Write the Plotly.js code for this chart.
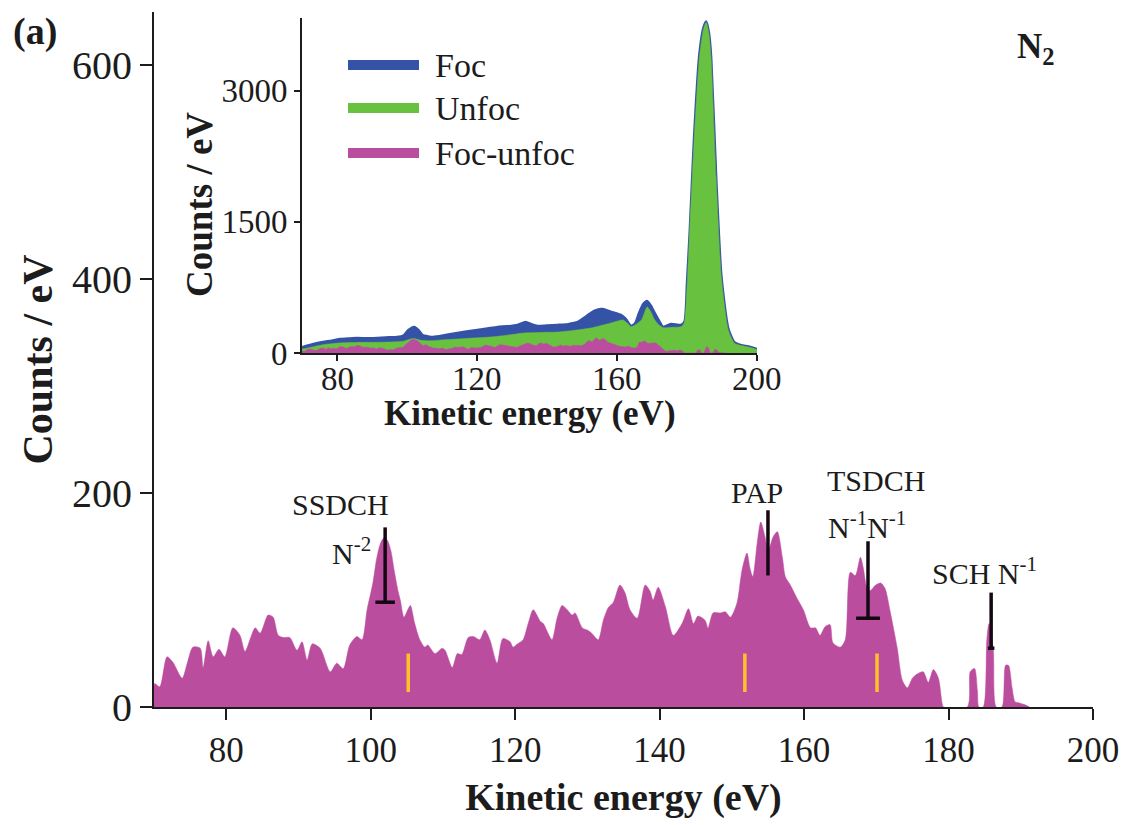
<!DOCTYPE html>
<html>
<head>
<meta charset="utf-8">
<script src="https://cdn.plot.ly/plotly-3.0.1.min.js"></script>
<style>html,body{margin:0;padding:0;background:#fff;}#chart{width:1132px;height:825px;}</style>
</head>
<body>
<div id="chart"></div>
<script>
// ---------- Main panel: Foc-unfoc difference spectrum ----------
const diffEnergy = [70.0,70.1,70.8,71.8,72.6,73.9,74.6,75.4,76.4,76.8,77.5,78.2,79.0,79.8,80.9,81.9,82.6,84.0,84.7,85.8,86.5,87.2,87.9,88.8,89.8,90.5,91.2,91.9,93.0,94.4,95.3,96.2,97.1,98.1,98.8,99.5,100.3,100.8,101.3,101.8,102.3,102.8,103.3,103.8,104.1,104.6,105.2,105.5,106.1,106.8,107.5,107.9,108.9,109.9,110.3,111.3,112.0,112.6,113.5,114.2,115.1,115.8,116.5,117.5,118.3,119.3,119.7,120.3,121.1,121.8,122.5,123.5,123.9,125.1,125.8,126.5,127.2,127.9,128.3,129.3,130.0,130.6,131.5,132.2,132.9,133.6,134.5,135.2,135.9,136.9,138.0,138.7,139.1,139.8,140.8,141.9,143.1,144.0,144.7,145.3,146.3,146.7,147.4,148.4,149.1,149.8,150.7,151.4,152.1,152.5,152.9,153.5,154.0,154.6,155.0,155.7,156.3,157.0,157.4,158.1,159.0,159.9,160.9,161.6,162.2,162.9,163.6,164.0,165.0,165.7,166.4,167.1,167.8,168.2,168.7,169.2,169.9,170.6,171.2,171.9,172.9,173.6,174.3,175.0,175.7,176.5,177.2,177.9,178.6,179.1,179.3,182.6,183.0,183.6,184.0,184.2,184.8,185.3,185.6,186.2,186.6,187.4,187.9,188.3,188.8,189.2,189.7,190.6,191.2];
const diffCounts = [18,22,19,47,42,27,41,56,55,37,62,47,54,47,74,67,52,74,69,86,84,67,65,65,53,61,44,59,55,33,41,36,58,66,63,91,116,138,152,158,156,146,126,108,100,84,92,95,78,63,56,58,50,55,53,37,50,49,65,66,63,72,63,41,64,61,56,59,63,78,91,80,78,63,83,95,91,86,88,74,72,69,63,81,93,98,114,107,91,83,114,108,100,112,94,67,78,92,78,85,81,74,88,88,89,84,97,128,144,130,122,153,173,159,145,159,164,140,122,114,102,91,74,74,67,75,77,60,56,63,126,123,140,130,112,109,114,116,111,90,55,25,18,27,31,33,23,35,27,4,0,0,33,36,15,0,0,63,78,53,0,0,39,39,18,5,4,2,0];

// ---------- Inset: focused and unfocused spectra ----------
const focEnergy = [70,73,76,78.5,80.9,83,85.8,88.5,91.5,94,97.2,99,100.4,102.1,103.3,104.4,106,107.5,111,114.4,117,120.1,123,125.9,128.5,131.6,133.9,135.5,137.3,140,143.1,146,148.8,150.5,152.5,154,155.9,158.3,161.1,162.5,164,165.2,166.3,167.5,168.6,169.7,170.6,172,173.2,175.4,178.3,179.3,180,180.8,182,183.5,184.7,185.5,186.3,186.9,188.3,189.8,191.8,193.5,195.5,197.5,200];
const focCounts = [65,100,126,140,160,165,172,168,172,178,183,200,263,298,260,206,190,183,205,229,245,263,280,298,305,321,355,330,309,315,321,330,355,400,458,490,504,470,435,390,309,340,458,560,595,540,470,370,298,332,321,360,800,1400,2450,3400,3720,3790,3650,3380,2040,890,280,125,90,75,45];
const unfocEnergy = [70,73,76,80.9,85,90,95.2,99,101,102,104,106.5,110,114.4,119,124,128,133.4,138,143,148,152.5,155,158.3,160.5,161.7,163,164,165.5,167,168.6,169.7,170.6,172,173.2,176,178.3,179.2,180,180.6,182,183.5,184.7,185.5,186.3,186.9,188.3,189.8,191.8,193.5,195.5,197.5,200];
const unfocCounts = [45,70,95,115,120,122,126,135,160,165,145,140,150,160,172,183,200,229,235,240,260,286,310,344,370,378,340,300,330,378,527,470,390,320,290,295,300,344,750,1260,2405,3356,3700,3780,3640,3356,2016,870,263,115,85,69,40];

const seriesNames = ['Foc','Unfoc','Foc-unfoc'];
const seriesColors = ['#3553a6','#69c23f','#bb4d9e'];

// ---------- Markers on main panel ----------
const markEnergy = [102.0,155.0,168.85,185.9];
const markTop = [168,184,155,107];
const markBottom = [98,123,83,55];
const markCapHalf = [1.35,0,1.65,0.45];
const yellowEnergy = [105.2,151.8,170.1];
const yellowLow = 14, yellowHigh = 50;

const peakLabels = ['SSDCH','N<sup>-2</sup>','PAP','TSDCH','N<sup>-1</sup>N<sup>-1</sup>','SCH N<sup>-1</sup>'];

const xTicks = [80,100,120,140,160,180,200];
const yTicks = [0,200,400,600];
const insetXTicks = [80,120,160,200];
const insetYTicks = [0,1500,3000];

const xTitle = 'Kinetic energy (eV)';
const yTitle = 'Counts / eV';

// build marker paths
const barX = [], barY = [];
markEnergy.forEach((e,i)=>{
  barX.push(e,e,null); barY.push(markTop[i],markBottom[i],null);
  if (markCapHalf[i]>0){ barX.push(e-markCapHalf[i],e+markCapHalf[i],null); barY.push(markBottom[i],markBottom[i],null); }
});
const yelX = [], yelY = [];
yellowEnergy.forEach(e=>{ yelX.push(e,e,null); yelY.push(yellowLow,yellowHigh,null); });

const serif = 'Liberation Serif, Times New Roman, serif';
const ink = '#1c1c1c';

const traces = [
  {x: diffEnergy, y: diffCounts, type:'scatter', mode:'lines', fill:'tozeroy',
   line:{color:seriesColors[2], width:0.5, shape:'spline', smoothing:0.75}, fillcolor:seriesColors[2],
   xaxis:'x', yaxis:'y', showlegend:false, hoverinfo:'skip'},
  {x: yelX, y: yelY, type:'scatter', mode:'lines', line:{color:'#ffc22a', width:3.5},
   xaxis:'x', yaxis:'y', showlegend:false, hoverinfo:'skip'},
  {x: barX, y: barY, type:'scatter', mode:'lines', line:{color:'#150812', width:3.5},
   xaxis:'x', yaxis:'y', showlegend:false, hoverinfo:'skip'},
  {x: focEnergy, y: focCounts, type:'scatter', mode:'lines', fill:'tozeroy', name:seriesNames[0],
   line:{color:seriesColors[0], width:2.5, shape:'spline', smoothing:0.6}, fillcolor:seriesColors[0],
   xaxis:'x2', yaxis:'y2', showlegend:false},
  {x: unfocEnergy, y: unfocCounts, type:'scatter', mode:'lines', fill:'tozeroy', name:seriesNames[1],
   line:{color:seriesColors[1], width:0.5, shape:'spline', smoothing:0.6}, fillcolor:seriesColors[1],
   xaxis:'x2', yaxis:'y2', showlegend:false},
  {x: diffEnergy, y: diffCounts, type:'scatter', mode:'lines', fill:'tozeroy', name:seriesNames[2],
   line:{color:seriesColors[2], width:0.5}, fillcolor:seriesColors[2],
   xaxis:'x2', yaxis:'y2', showlegend:false}
];

// Layout geometry: main plot area px 154..1093 x 12..707
const W=1132,H=825, L=154, R=1093, T=12, B=707;
const px = v => (v-L)/(R-L);
const py = v => (B-v)/(B-T);

const annotations = [];
const labelPos = [[95.8,189],[97.3,146],[153.5,201],[170.0,212],[168.7,170],[185.0,127]];
peakLabels.forEach((t,i)=>{
  annotations.push({x:labelPos[i][0], y:labelPos[i][1], xref:'x', yref:'y', text:t, showarrow:false,
    font:{family:serif, size:30, color:ink}, xanchor:'center', yanchor:'middle', align:'center'});
});
annotations.push({x:px(11), y:py(31), xref:'paper', yref:'paper', text:'<b>(a)</b>', showarrow:false,
  font:{family:serif, size:38, color:ink}, xanchor:'left', yanchor:'middle'});
annotations.push({x:px(1036), y:py(48), xref:'paper', yref:'paper', text:'<b>N<sub>2</sub></b>', showarrow:false,
  font:{family:serif, size:35, color:ink}, xanchor:'center', yanchor:'middle'});

// inset x tick labels and inset titles (placed close to the axis as in the figure)
insetXTicks.forEach(t=>{
  annotations.push({x:t, xref:'x2', y:py(379), yref:'paper', text:String(t), showarrow:false,
    font:{family:serif, size:33, color:ink}, xanchor:'center', yanchor:'middle'});
});
annotations.push({x:px(530), y:py(413), xref:'paper', yref:'paper', text:'<b>'+xTitle+'</b>', showarrow:false,
  font:{family:serif, size:35, color:ink}, xanchor:'center', yanchor:'middle'});
annotations.push({x:px(199), y:py(205), xref:'paper', yref:'paper', text:'<b>'+yTitle+'</b>', showarrow:false,
  textangle:-90, font:{family:serif, size:37, color:ink}, xanchor:'center', yanchor:'middle'});

// manual legend in inset
const legendY = [65,108,153];
const shapes = [];
seriesNames.forEach((n,i)=>{
  shapes.push({type:'line', xref:'paper', yref:'paper', x0:px(348), x1:px(419), y0:py(legendY[i]), y1:py(legendY[i]),
    line:{color:seriesColors[i], width:10}});
  annotations.push({x:px(433), y:py(legendY[i]), xref:'paper', yref:'paper', text:n, showarrow:false,
    font:{family:serif, size:34, color:ink}, xanchor:'left', yanchor:'middle'});
});

const layout = {
  width:W, height:H, paper_bgcolor:'#fff', plot_bgcolor:'rgba(0,0,0,0)',
  margin:{l:L, r:W-R, t:T, b:H-B},
  showlegend:false,
  xaxis:{domain:[0,1], range:[70,200], tickvals:xTicks, ticks:'outside', ticklen:11, tickwidth:2, tickcolor:ink,
    showline:true, linewidth:2, linecolor:ink, showgrid:false, zeroline:false,
    tickfont:{family:serif, size:35, color:ink},
    title:{text:xTitle, font:{family:serif, size:38, color:ink, weight:'bold'}, standoff:14}},
  yaxis:{domain:[0,1], range:[0,650], tickvals:yTicks, ticks:'outside', ticklen:12, tickwidth:2, tickcolor:ink,
    showline:true, linewidth:2, linecolor:ink, showgrid:false, zeroline:false,
    tickfont:{family:serif, size:40, color:ink},
    title:{text:yTitle, font:{family:serif, size:42, color:ink, weight:'bold'}, standoff:6}},
  xaxis2:{domain:[px(302),px(757)], anchor:'y2', range:[70,200], tickvals:insetXTicks, ticks:'outside', ticklen:6, tickwidth:2, tickcolor:ink,
    showline:true, linewidth:2, linecolor:ink, showgrid:false, zeroline:false, showticklabels:false},
  yaxis2:{domain:[py(353),py(18)], anchor:'x2', range:[0,3830], tickvals:insetYTicks, ticks:'outside', ticklen:6, tickwidth:2, tickcolor:ink,
    showline:true, linewidth:2, linecolor:ink, showgrid:false, zeroline:false,
    tickfont:{family:serif, size:33, color:ink}},
  annotations: annotations,
  shapes: shapes
};

Plotly.newPlot('chart', traces, layout, {staticPlot:true, displayModeBar:false});
</script>
</body>
</html>
